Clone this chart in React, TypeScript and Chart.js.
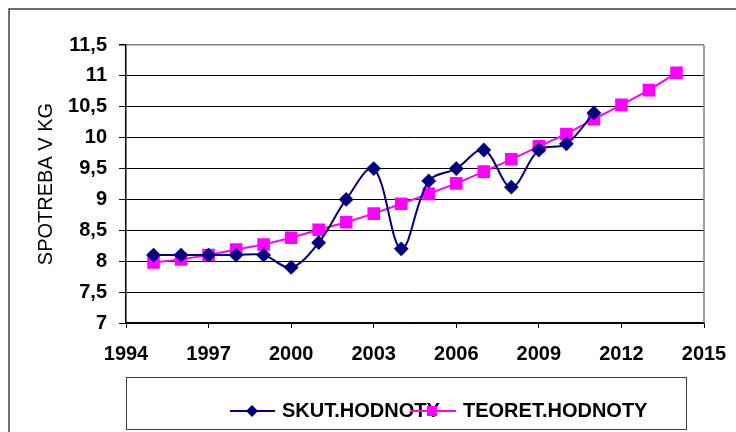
import React, { useEffect, useRef } from "react";
import { Chart, registerables } from "chart.js";

Chart.register(...registerables);

const skutYears = [1995, 1996, 1997, 1998, 1999, 2000, 2001, 2002, 2003, 2004, 2005, 2006, 2007, 2008, 2009, 2010, 2011];
const skutValues = [8.1, 8.1, 8.1, 8.1, 8.1, 7.9, 8.3, 9.0, 9.5, 8.2, 9.3, 9.5, 9.8, 9.2, 9.8, 9.9, 10.4];

const teorYears = [1995, 1996, 1997, 1998, 1999, 2000, 2001, 2002, 2003, 2004, 2005, 2006, 2007, 2008, 2009, 2010, 2011, 2012, 2013, 2014];
const teorValues = [7.98, 8.03, 8.1, 8.19, 8.27, 8.38, 8.51, 8.63, 8.77, 8.93, 9.09, 9.26, 9.45, 9.65, 9.86, 10.06, 10.3, 10.53, 10.77, 11.05];

const seriesNames = ["SKUT.HODNOTY", "TEORET.HODNOTY"];
const yTitle = "SPOTREBA V KG";

const FONT = "'Liberation Sans', Arial, sans-serif";
const NAVY = "#000080";
const MAGENTA = "#FF00FF";

const decor = {
  id: "decor",
  afterDraw(chart: any) {
    const ctx = chart.ctx;
    const a = chart.chartArea;
    ctx.save();
    ctx.strokeStyle = "#404040";
    ctx.lineWidth = 1.5;
    ctx.strokeRect(9, 9, 740, 440);
    ctx.strokeStyle = "#808080";
    ctx.lineWidth = 1.5;
    ctx.beginPath();
    ctx.moveTo(a.right, a.top);
    ctx.lineTo(a.right, a.bottom);
    ctx.stroke();
    ctx.fillStyle = "#000";
    ctx.font = `20px ${FONT}`;
    ctx.textAlign = "center";
    ctx.textBaseline = "middle";
    ctx.translate(46, (a.top + a.bottom) / 2);
    ctx.rotate(-Math.PI / 2);
    ctx.fillText(yTitle, 0, 0);
    ctx.restore();

    ctx.save();
    ctx.strokeStyle = "#404040";
    ctx.lineWidth = 1;
    ctx.strokeRect(126.5, 377.5, 560, 52);
    const ly = 411;
    const items = [
      { x0: 230, x1: 275, px: 252, tx: 282 },
      { x0: 410, x1: 456, px: 432, tx: 463 },
    ];
    ctx.font = `bold 20px ${FONT}`;
    ctx.textBaseline = "middle";
    ctx.textAlign = "left";
    items.forEach((it, i) => {
      const ds = chart.data.datasets[i];
      ctx.strokeStyle = ds.borderColor;
      ctx.lineWidth = 2;
      ctx.beginPath();
      ctx.moveTo(it.x0, ly);
      ctx.lineTo(it.x1, ly);
      ctx.stroke();
      ctx.fillStyle = ds.pointBackgroundColor;
      ctx.beginPath();
      if (i === 0) {
        ctx.moveTo(it.px, ly - 6);
        ctx.lineTo(it.px + 6, ly);
        ctx.lineTo(it.px, ly + 6);
        ctx.lineTo(it.px - 6, ly);
        ctx.closePath();
        ctx.fill();
      } else {
        ctx.fillRect(it.px - 5, ly - 5, 10, 10);
      }
      ctx.fillStyle = "#000";
      ctx.fillText(seriesNames[i], it.tx, ly);
    });
    ctx.restore();
  },
};

export default function App() {
  const ref = useRef<HTMLCanvasElement>(null);
  useEffect(() => {
    if (!ref.current) return;
    const chart = new Chart(ref.current, {
      type: "line",
      data: {
        datasets: [
          {
            label: seriesNames[0],
            data: skutYears.map((x, i) => ({ x, y: skutValues[i] })),
            borderColor: NAVY,
            backgroundColor: NAVY,
            pointBackgroundColor: NAVY,
            pointBorderColor: NAVY,
            pointStyle: "rectRot",
            pointRadius: 6,
            borderWidth: 2,
            tension: 0.35,
          },
          {
            label: seriesNames[1],
            data: teorYears.map((x, i) => ({ x, y: teorValues[i] })),
            borderColor: MAGENTA,
            backgroundColor: MAGENTA,
            pointBackgroundColor: MAGENTA,
            pointBorderColor: MAGENTA,
            pointStyle: "rect",
            pointRadius: 7.5,
            borderWidth: 2,
            tension: 0,
          },
        ],
      } as any,
      options: {
        animation: false,
        responsive: false,
        layout: { padding: { top: 45, right: 32, left: 0, bottom: 0 } },
        plugins: { legend: { display: false }, tooltip: { enabled: false } },
        scales: {
          x: {
            type: "linear",
            min: 1994,
            max: 2015,
            afterFit(s: any) {
              s.height = 109;
              s.paddingRight = 0;
              s.paddingLeft = 0;
            },
            ticks: {
              stepSize: 3,
              color: "#000",
              padding: 14,
              font: { family: FONT, size: 20, weight: "bold" },
              callback: (v: any) => String(v),
            },
            grid: { drawOnChartArea: false, drawTicks: true, tickLength: 5, color: "#000" },
            border: { color: "#000", width: 1.5 },
          },
          y: {
            min: 7,
            max: 11.5,
            afterFit(s: any) {
              s.width = 126;
              s.paddingTop = 0;
              s.paddingBottom = 0;
            },
            ticks: {
              stepSize: 0.5,
              color: "#000",
              padding: 12,
              font: { family: FONT, size: 20, weight: "bold" },
              callback: (v: any) => String(v).replace(".", ","),
            },
            grid: {
              color: (c: any) => (c.tick && c.tick.value === 11.5 ? "#808080" : "#000"),
              lineWidth: (c: any) => (c.tick && c.tick.value === 11.5 ? 1.5 : 1),
              tickLength: 7,
              tickColor: "#000",
            },
            border: { color: "#000", width: 1.5 },
          },
        },
      } as any,
      plugins: [decor],
    });
    return () => chart.destroy();
  }, []);
  return (
    <div style={{ position: "absolute", left: 0, top: 0, width: 736, height: 432, background: "#fff" }}>
      <canvas ref={ref} width={736} height={432} style={{ display: "block" }} />
    </div>
  );
}
